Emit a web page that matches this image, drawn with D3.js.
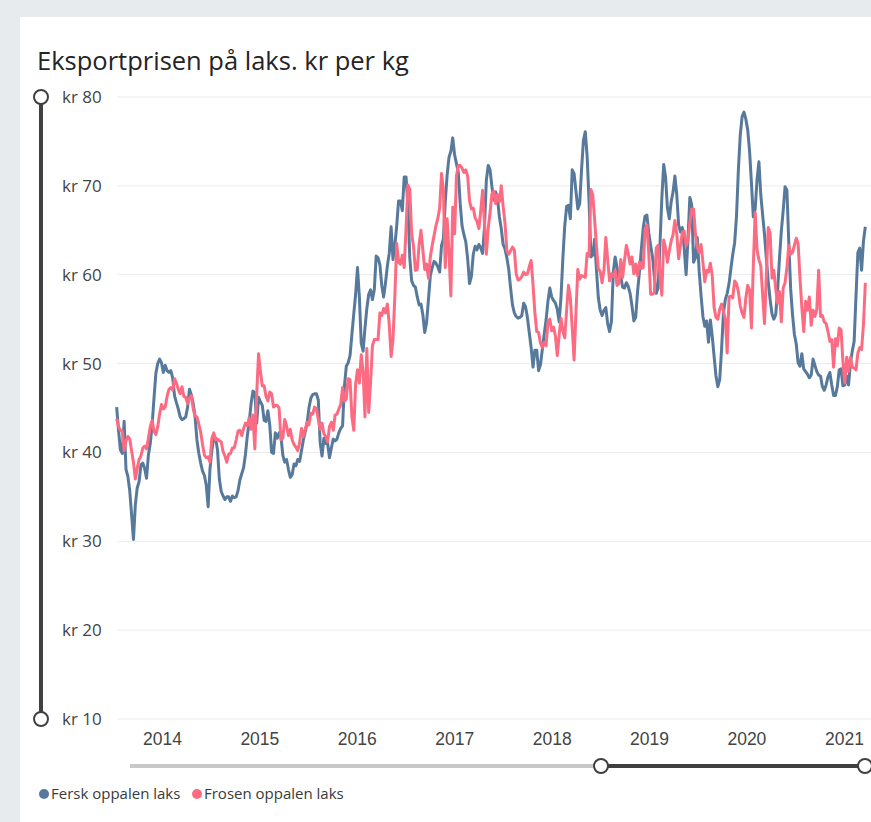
<!DOCTYPE html>
<html>
<head>
<meta charset="utf-8">
<script src="https://cdn.jsdelivr.net/npm/d3@7"></script>
<style>
  body { margin: 0; background: #e8ebee; }
  svg { display: block; font-family: "Open Sans", "Noto Sans", sans-serif; }
</style>
</head>
<body>
<div id="viz"></div>
<script>
const WIDTH = 871, HEIGHT = 822;

// weekly export prices, first week starts 2013-07-15
const firstWeek = new Date(2013, 6, 15);

const fersk = [
  45.1, 42.5, 40.3, 39.9, 43.5, 38.1, 37.3, 35.7, 33.0, 30.2,
  34.1, 36.0, 36.7, 38.6, 38.8, 38.2, 37.1, 39.7, 41.0, 43.1,
  46.1, 48.9, 50.0, 50.5, 50.1, 49.0, 49.8, 49.2, 49.0, 49.2,
  48.4, 46.4, 45.6, 44.9, 44.0, 43.7, 43.8, 44.0, 45.1, 47.1,
  46.5, 45.5, 44.0, 41.4, 39.9, 38.8, 37.9, 37.4, 36.3, 33.9,
  38.2, 40.2, 41.8, 41.6, 40.3, 37.0, 35.6, 35.1, 34.7, 35.0,
  35.0, 34.5, 35.1, 34.9, 35.0, 35.7, 36.9, 37.6, 38.3, 39.8,
  41.9, 43.4, 45.5, 46.9, 46.7, 43.3, 46.2, 45.7, 45.3, 43.6,
  43.5, 44.7, 43.1, 40.0, 39.9, 42.2, 41.6, 42.2, 41.8, 39.7,
  38.9, 39.2, 38.1, 37.2, 37.5, 38.7, 38.5, 39.2, 39.0, 40.2,
  41.4, 42.3, 43.3, 45.0, 46.1, 46.5, 46.6, 46.6, 45.9, 41.1,
  39.6, 41.6, 41.0, 41.0, 39.4, 40.5, 41.5, 41.3, 41.5, 42.2,
  42.7, 43.0, 47.5, 49.7, 50.1, 50.9, 53.3, 55.6, 57.8, 60.8,
  57.5, 52.3, 51.4, 54.0, 56.2, 57.8, 58.3, 57.2, 58.3, 62.1,
  61.9, 61.1, 58.8, 57.5, 59.1, 61.0, 62.4, 65.4, 61.7, 63.3,
  65.5, 68.3, 68.3, 67.2, 71.0, 71.0, 67.8, 61.9, 59.3, 58.8,
  58.6, 57.5, 56.6, 56.7, 55.5, 53.5, 54.6, 57.2, 59.9, 60.8,
  61.5, 61.3, 60.9, 60.3, 63.3, 64.0, 68.2, 71.2, 73.2, 73.9,
  75.4, 73.5, 72.5, 71.5, 68.0, 65.5, 64.5, 63.7, 61.8, 59.0,
  59.8, 62.3, 63.2, 62.8, 63.4, 63.0, 62.4, 65.3, 70.6, 72.3,
  71.8, 69.9, 68.4, 69.3, 68.5, 66.5, 65.2, 63.4, 62.9, 61.9,
  60.6, 58.5, 56.6, 55.7, 55.3, 55.1, 55.2, 55.4, 56.8, 56.4,
  55.2, 53.5, 51.8, 49.6, 51.5, 51.5, 49.2, 49.9, 51.6, 53.3,
  54.9, 57.0, 58.5, 57.5, 57.1, 56.8, 56.1, 54.7, 57.5, 61.9,
  65.5, 67.7, 67.8, 66.3, 71.8, 71.4, 69.4, 67.4, 68.0, 71.8,
  75.1, 76.1, 73.3, 68.4, 62.0, 62.2, 64.0, 60.5, 57.4, 56.0,
  55.4, 56.0, 56.3, 54.5, 53.6, 54.7, 60.3, 62.0, 60.8, 59.5,
  59.8, 58.6, 58.5, 59.1, 58.7, 57.9, 56.5, 54.8, 55.2, 58.1,
  60.3, 62.8, 65.2, 66.6, 66.7, 64.7, 63.3, 62.0, 59.8, 57.9,
  58.5, 63.4, 68.6, 72.4, 71.0, 67.5, 66.3, 68.2, 69.3, 71.1,
  69.0, 65.6, 64.8, 65.3, 62.9, 60.0, 64.0, 68.7, 67.9, 61.4,
  61.9, 64.2, 60.4, 57.7, 55.3, 54.2, 54.8, 52.4, 54.9, 53.1,
  50.8, 48.6, 47.4, 48.2, 51.6, 55.7, 57.2, 57.9, 59.0, 60.7,
  62.3, 63.6, 66.6, 71.8, 75.7, 77.8, 78.3, 77.5, 76.3, 73.9,
  70.3, 66.5, 67.4, 70.7, 72.7, 69.0, 66.7, 64.5, 61.8, 59.2,
  57.2, 55.6, 55.0, 55.5, 58.2, 61.8, 64.9, 67.2, 69.9, 69.5,
  63.6, 58.4, 55.5, 53.3, 52.2, 50.1, 49.7, 51.1, 49.4, 49.1,
  48.8, 48.4, 48.7, 50.5, 49.8, 49.1, 48.7, 48.6, 47.4, 47.0,
  47.6, 48.5, 49.0, 47.6, 46.4, 46.4, 47.4, 49.3, 49.4, 47.5,
  47.6, 48.6, 47.6, 50.0, 51.4, 52.5, 57.6, 62.5, 63.0, 60.5,
  63.8, 65.4
];

const frosen = [
  43.8, 42.9, 42.5, 42.4, 40.2, 41.3, 41.8, 41.5, 40.2, 38.9,
  37.0, 38.2, 39.2, 39.6, 40.5, 40.7, 40.4, 41.6, 42.9, 43.6,
  42.4, 42.0, 42.9, 44.3, 45.4, 44.9, 45.1, 46.3, 47.1, 47.3,
  47.0, 48.3, 47.8, 47.1, 46.6, 47.4, 46.3, 46.2, 45.5, 46.1,
  46.4, 44.9, 44.1, 44.0, 43.2, 42.3, 40.9, 39.7, 39.4, 39.5,
  38.9, 41.6, 42.2, 41.4, 41.5, 41.3, 41.2, 40.1, 39.6, 38.9,
  39.8, 39.9, 40.5, 40.5, 41.4, 42.4, 42.5, 41.9, 42.7, 43.3,
  43.0, 43.9, 42.6, 44.2, 40.4, 46.5, 51.1, 49.1, 47.5, 47.5,
  46.3, 45.8, 46.8, 46.6, 45.1, 45.3, 45.3, 45.0, 41.4, 41.6,
  43.7, 43.0, 41.9, 42.6, 41.4, 40.9, 40.6, 40.2, 41.1, 42.7,
  41.8, 42.6, 43.4, 43.1, 44.4, 44.3, 45.1, 44.9, 43.7, 42.6,
  43.3, 42.1, 41.8, 41.2, 42.9, 43.4, 42.5, 44.2, 44.3, 44.9,
  45.4, 47.3, 45.8, 46.0, 48.3, 48.2, 44.0, 42.5, 47.7, 49.3,
  47.8, 51.0, 49.1, 44.0, 51.7, 44.5, 47.9, 52.0, 52.7, 52.7,
  52.7, 55.7, 55.4, 56.2, 55.7, 56.7, 54.4, 50.8, 52.7, 57.6,
  63.5, 61.4, 61.2, 62.2, 60.8, 65.2, 70.1, 69.6, 64.6, 63.2,
  60.5, 60.6, 63.4, 65.0, 62.8, 60.6, 61.2, 59.6, 62.0, 63.3,
  64.4, 65.5, 66.3, 67.5, 71.4, 69.5, 60.8, 66.3, 62.5, 57.6,
  67.6, 64.6, 71.1, 72.3, 72.3, 72.0, 71.5, 71.8, 71.1, 68.3,
  67.4, 67.5, 66.4, 66.0, 65.2, 67.2, 69.5, 65.9, 62.3, 65.2,
  67.0, 69.1, 69.4, 68.0, 69.0, 68.2, 70.0, 67.7, 65.8, 62.7,
  62.3, 62.7, 63.1, 62.8, 60.1, 59.4, 59.5, 59.8, 60.3, 60.0,
  60.1, 60.9, 61.6, 58.9, 55.7, 53.6, 53.5, 52.3, 51.8, 52.4,
  52.0, 54.7, 55.0, 53.7, 54.1, 53.1, 50.9, 53.2, 55.1, 53.6,
  52.9, 56.0, 58.8, 57.4, 54.0, 50.4, 55.7, 60.6, 59.5, 59.9,
  59.8, 59.7, 62.4, 62.1, 69.6, 69.0, 66.2, 63.2, 60.6, 60.4,
  59.1, 60.5, 64.2, 61.7, 59.3, 60.1, 59.8, 60.5, 58.8, 59.0,
  61.7, 59.7, 61.6, 63.3, 62.4, 61.2, 62.0, 60.1, 61.2, 59.9,
  61.4, 60.7, 60.8, 65.1, 65.6, 62.4, 57.8, 57.8, 58.0, 63.0,
  63.3, 59.9, 57.7, 63.9, 63.0, 61.4, 62.7, 63.8, 64.5, 66.1,
  64.6, 61.8, 63.3, 64.8, 64.9, 63.3, 63.8, 65.8, 67.4, 67.4,
  64.6, 63.1, 62.5, 63.4, 61.4, 59.2, 60.5, 60.3, 61.3, 59.9,
  56.3, 55.2, 55.0, 56.1, 56.7, 55.9, 55.0, 51.2, 57.5, 57.6,
  57.4, 59.3, 59.0, 58.1, 56.5, 55.7, 55.2, 57.4, 58.8, 58.3,
  54.0, 61.0, 67.0, 62.8, 61.7, 61.0, 57.7, 54.5, 60.0, 65.3,
  64.7, 59.6, 60.5, 58.4, 56.8, 58.1, 54.7, 58.5, 59.1, 60.8,
  63.3, 62.3, 62.5, 63.3, 64.1, 63.5, 59.6, 56.3, 53.6, 57.0,
  56.0, 57.5, 54.3, 56.0, 55.3, 56.1, 60.5, 55.3, 55.4, 54.7,
  54.5, 53.6, 52.5, 52.7, 49.6, 52.8, 52.0, 54.0, 53.8, 50.2,
  47.8, 50.7, 49.1, 50.7, 49.6, 49.5, 49.3, 51.2, 51.8, 51.6,
  54.4, 59.1
];

const seriesNames = ["Fersk oppalen laks", "Frosen oppalen laks"];
const yTicks = [10, 20, 30, 40, 50, 60, 70, 80];
const yearTicks = [2014, 2015, 2016, 2017, 2018, 2019, 2020, 2021];

const COLORS = {
  fersk: "#57799b",
  frosen: "#fd6b82",
  grid: "#e9ebed",
  text: "#3a3a3a",
  axis: "#444",
  sliderDark: "#404040",
  sliderLight: "#c8c8c6"
};

const weeks = fersk.map((d, i) => d3.timeDay.offset(firstWeek, 7 * i));
const series = [
  { name: seriesNames[0], color: COLORS.fersk, values: fersk },
  { name: seriesNames[1], color: COLORS.frosen, values: frosen }
];

const svg = d3.select("#viz").append("svg")
  .attr("width", WIDTH)
  .attr("height", HEIGHT);

// white card
svg.append("rect")
  .attr("x", 20)
  .attr("y", 17)
  .attr("width", WIDTH - 20)
  .attr("height", HEIGHT - 17)
  .attr("fill", "#fff");

svg.append("text")
  .attr("x", 37)
  .attr("y", 70)
  .style("font-size", "25.5px")
  .style("fill", "#252423")
  .text("Eksportprisen på laks. kr per kg");

const x = d3.scaleTime()
  .domain([new Date(2014, 0, 1), new Date(2021, 0, 1)])
  .range([162, 844]);

const y = d3.scaleLinear()
  .domain([10, 80])
  .range([719, 97]);

// gridlines
svg.append("g")
  .selectAll("line")
  .data(yTicks)
  .join("line")
  .attr("x1", 117)
  .attr("x2", WIDTH)
  .attr("y1", d => y(d))
  .attr("y2", d => y(d))
  .attr("stroke", COLORS.grid)
  .attr("stroke-width", 1);

// y labels
svg.append("g")
  .selectAll("text")
  .data(yTicks)
  .join("text")
  .attr("x", 62)
  .attr("y", d => y(d))
  .attr("dy", "0.35em")
  .style("font-size", "17px")
  .style("fill", COLORS.axis)
  .text(d => `kr ${d}`);

// x labels
const xAxis = svg.append("g")
  .attr("transform", "translate(0,733)")
  .call(d3.axisBottom(x)
    .tickValues(yearTicks.map(yr => new Date(yr, 0, 1)))
    .tickFormat(d3.timeFormat("%Y"))
    .tickSize(0)
    .tickPadding(0));
xAxis.select(".domain").remove();
xAxis.selectAll("text")
  .attr("dy", "0.71em")
  .style("font-family", "inherit")
  .style("font-size", "17.5px")
  .style("fill", COLORS.axis);

// lines
const line = d3.line()
  .x((d, i) => x(weeks[i]))
  .y(d => y(d));

svg.append("g")
  .selectAll("path")
  .data(series)
  .join("path")
  .attr("d", d => line(d.values))
  .attr("fill", "none")
  .attr("stroke", d => d.color)
  .attr("stroke-width", 3)
  .attr("stroke-linejoin", "round");

// vertical range slider (y)
svg.append("line")
  .attr("x1", 41).attr("x2", 41)
  .attr("y1", y(80)).attr("y2", y(10))
  .attr("stroke", COLORS.sliderDark)
  .attr("stroke-width", 4);
svg.append("g")
  .selectAll("circle")
  .data([80, 10])
  .join("circle")
  .attr("cx", 41)
  .attr("cy", d => y(d))
  .attr("r", 7)
  .attr("fill", "#fff")
  .attr("stroke", COLORS.sliderDark)
  .attr("stroke-width", 2);

// horizontal range slider (x)
const sliderY = 766;
svg.append("line")
  .attr("x1", 130).attr("x2", 601)
  .attr("y1", sliderY).attr("y2", sliderY)
  .attr("stroke", COLORS.sliderLight)
  .attr("stroke-width", 4);
svg.append("line")
  .attr("x1", 601).attr("x2", 865)
  .attr("y1", sliderY).attr("y2", sliderY)
  .attr("stroke", COLORS.sliderDark)
  .attr("stroke-width", 4);
svg.append("g")
  .selectAll("circle")
  .data([601, 865])
  .join("circle")
  .attr("cx", d => d)
  .attr("cy", sliderY)
  .attr("r", 7)
  .attr("fill", "#fff")
  .attr("stroke", COLORS.sliderDark)
  .attr("stroke-width", 2);

// legend
const legend = svg.append("g")
  .attr("transform", "translate(44,794)");
const legendX = [0, 153];
const items = legend.selectAll("g")
  .data(series)
  .join("g")
  .attr("transform", (d, i) => `translate(${legendX[i]},0)`);
items.append("circle")
  .attr("r", 5)
  .attr("fill", d => d.color);
items.append("text")
  .attr("x", 7)
  .attr("dy", "0.35em")
  .style("font-size", "15px")
  .style("fill", COLORS.text)
  .text(d => d.name);
</script>
</body>
</html>
